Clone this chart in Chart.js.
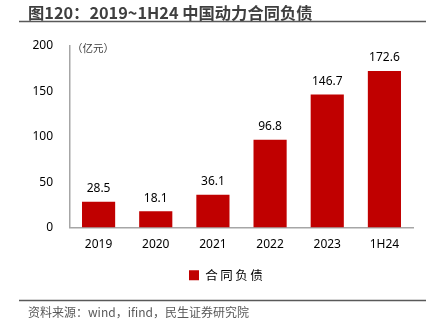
<!DOCTYPE html>
<html><head><meta charset="utf-8">
<script src="https://cdn.jsdelivr.net/npm/chart.js@4"></script>
<style>html,body{margin:0;padding:0;background:#fff}canvas{display:block}</style>
</head><body>
<canvas id="c" width="439" height="336"></canvas>
<script>
const categories = ['2019','2020','2021','2022','2023','1H24'];
const contractLiabilities = [28.5, 18.1, 36.1, 96.8, 146.7, 172.6];
const seriesName = '合\u2009同\u2009负\u2009债\u2003\u2003\u2002';
const titleText = '图120：2019~1H24 中国动力合同负债';
const sourceText = '资料来源：wind，ifind，民生证券研究院';
const unitText = '（亿元）';

const decor = {
  id: 'decor',
  afterDraw(chart) {
    const ctx = chart.ctx;
    ctx.save();
    ctx.strokeStyle = '#595959';
    ctx.lineWidth = 1.5;
    ctx.beginPath(); ctx.moveTo(19, 21.5); ctx.lineTo(426, 21.5); ctx.stroke();
    ctx.beginPath(); ctx.moveTo(19, 300.5); ctx.lineTo(426, 300.5); ctx.stroke();
    const ca = chart.chartArea;
    ctx.fillStyle = '#404040';
    ctx.font = '10.5px "Noto Sans CJK SC"';
    ctx.textBaseline = 'middle';
    ctx.textAlign = 'left';
    ctx.fillText(unitText, ca.left + 2, ca.top + 2);
    ctx.restore();
  },
  afterDatasetsDraw(chart) {
    const ctx = chart.ctx;
    const meta = chart.getDatasetMeta(0);
    ctx.save();
    ctx.fillStyle = '#000';
    ctx.font = '12px "Noto Sans"';
    ctx.textAlign = 'center';
    ctx.textBaseline = 'middle';
    meta.data.forEach((bar, i) => {
      ctx.fillText(contractLiabilities[i].toFixed(1), bar.x, bar.y - 13);
    });
    ctx.restore();
  }
};

new Chart(document.getElementById('c'), {
  type: 'bar',
  data: {
    labels: categories,
    datasets: [{
      label: seriesName,
      data: contractLiabilities,
      backgroundColor: '#C00000',
      barPercentage: 0.58,
      categoryPercentage: 1
    }]
  },
  options: {
    responsive: false,
    animation: false,
    layout: { padding: { left: 28, right: 26, top: 0, bottom: 0 } },
    plugins: {
      title: {
        display: true, text: titleText, align: 'start', color: '#3F3F3F',
        font: { family: '"Noto Sans CJK SC"', size: 16.3, weight: 'bold', lineHeight: 1.2 },
        padding: { top: 3.5, bottom: 23 }
      },
      subtitle: {
        display: true, text: sourceText, align: 'start', position: 'bottom', color: '#595959',
        font: { family: '"Noto Sans CJK SC"', size: 12, lineHeight: 1.2 },
        padding: { top: 14, bottom: 16 }
      },
      legend: {
        position: 'bottom',
        fullSize: false,
        labels: {
          boxWidth: 10, boxHeight: 10, padding: 10, color: '#000',
          font: { family: '"Noto Sans CJK SC"', size: 12.5 }
        }
      },
      tooltip: { enabled: false }
    },
    scales: {
      x: {
        grid: { display: false, drawTicks: false },
        border: { display: true, color: '#A6A6A6', width: 1.5 },
        ticks: { color: '#000', font: { family: '"Noto Sans"', size: 12 }, padding: 10, maxRotation: 0 },
        afterFit(s) { s.height = 31.5; }
      },
      y: {
        min: 0, max: 200,
        grid: { display: false, drawTicks: false },
        border: { display: true, color: '#A6A6A6', width: 1.5 },
        ticks: { stepSize: 50, color: '#000', font: { family: '"Noto Sans"', size: 12 }, padding: 17 },
        afterFit(s) { s.width = 42; }
      }
    }
  },
  plugins: [decor]
});
</script>
</body></html>
